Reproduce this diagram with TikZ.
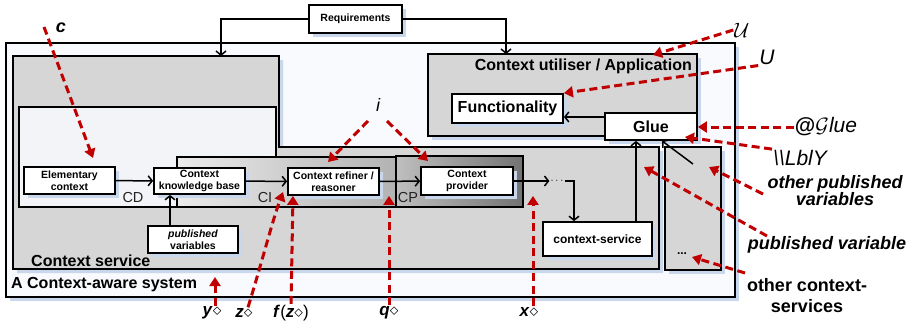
\documentclass[tikz,border=0pt]{standalone}
\usepackage{fontspec}
\setmainfont{Liberation Sans}
\setsansfont{Liberation Sans}
\usetikzlibrary{arrows.meta, positioning, calc, shadows}
\usepackage{xcolor}
\definecolor{csred}{HTML}{C00000}
\definecolor{csshadow}{HTML}{C9D7EC}
\definecolor{csgray}{HTML}{D6D6D6}
\definecolor{cspale}{HTML}{F2F4F8}
\definecolor{cssky}{HTML}{F9FAFD}
\definecolor{csdark}{HTML}{222222}
\newcommand{\dvar}[1]{\textbf{\textit{#1}}$\diamond$}

\begin{document}
\begin{tikzpicture}[
    x=1pt, y=-1pt,
    zone/.style={draw=black, line width=2.2pt},
    block/.style={
        rectangle,
        draw=black,
        line width=1.8pt,
        fill=white,
        align=center,
        inner sep=1pt,
        font=\bfseries\fontsize{10.5}{12.5}\selectfont,
        drop shadow={shadow xshift=4pt, shadow yshift=-4pt, fill=csshadow, opacity=1}
    },
    bigtext/.style={font=\bfseries\fontsize{16}{18}\selectfont, inner sep=1pt},
    pintag/.style={font=\fontsize{14.5}{16}\selectfont, text=csdark, inner sep=1pt},
    flow/.style={
        ->,
        >={Straight Barb[length=4pt, width=10pt]},
        line width=1.5pt
    },
    cue/.style={
        -{Triangle[length=9pt, width=11pt]},
        csred,
        line width=3pt,
        dash pattern=on 8pt off 4.5pt
    },
    vartag/.style={font=\fontsize{17}{19}\selectfont, inner sep=1pt},
    sidetag/.style={font=\bfseries\itshape\fontsize{18}{17}\selectfont, align=center, inner sep=1pt}
]
\useasboundingbox (0,0) rectangle (918,325);

% System frame
\fill[csshadow] (10,47) rectangle (739,301);
\draw[zone, fill=cssky] (6,43) rectangle (735,297);

% Shadows of the inner frames
\begin{scope}[shift={(4,4)}]
  \fill[csshadow] (13,56) -- (279,56) -- (279,147) -- (659,147) -- (659,269) -- (13,269) -- cycle;
  \fill[csshadow] (428,54) rectangle (697,136);
  \fill[csshadow] (665,147) rectangle (721,270);
\end{scope}

% Context service, utiliser and other services
\draw[zone, fill=csgray] (13,56) -- (279,56) -- (279,147) -- (659,147) -- (659,269) -- (13,269) -- cycle;
\draw[zone, fill=csgray] (428,54) rectangle (697,136);
\draw[zone, fill=csgray] (665,147) rectangle (721,270);

% Inner layers
\draw[zone, fill=cspale] (19,107) rectangle (276,207);
\draw[zone, left color=black!8, right color=black!30] (177,157) rectangle (396,207);
\draw[zone, left color=black!25, right color=black!55] (396,156) rectangle (523,207);

% Frame titles
\node[bigtext, anchor=east] (utiltitle) at (693,66) {Context utiliser / Application};
\node[bigtext, anchor=west] (srvtitle) at (30,261) {Context service};
\node[bigtext, anchor=west] (systitle) at (10,285) {A Context-aware system};
\node[pintag] (cd) at (133,198) {CD};
\node[pintag] (ci) at (265,198) {CI};
\node[pintag] (cp) at (408,198) {CP};

% Blocks
\node[block, minimum width=93pt, minimum height=28pt] (req) at (355.5,19) {Requirements};
\node[block, minimum width=91pt, minimum height=27pt] (elem) at (69.5,180.5) {Elementary\\context};
\node[block, minimum width=91pt, minimum height=26pt] (ckb) at (199.5,181) {Context\\knowledge base};
\node[block, minimum width=91pt, minimum height=27pt] (refiner) at (333.5,181.5) {Context refiner /\\reasoner};
\node[block, minimum width=92pt, minimum height=28pt] (provider) at (467,181) {Context\\provider};
\node[block, minimum width=90pt, minimum height=27pt] (pubvars) at (193,239.5) {\textit{published}\\variables};
\node[block, minimum width=109pt, minimum height=34pt, font=\bfseries\fontsize{12}{14}\selectfont] (ctxsrv) at (597.5,239) {context-service};
\node[block, minimum width=111pt, minimum height=29pt, font=\bfseries\fontsize{16}{18}\selectfont] (func) at (507.5,108.5) {Functionality};
\node[block, minimum width=92pt, minimum height=27pt, font=\bfseries\fontsize{16}{18}\selectfont] (glue) at (651,126.5) {Glue};
\node[font=\bfseries\fontsize{11}{12}\selectfont, inner sep=1pt] (dots) at (557,181) {$\cdots$};
\node[font=\bfseries\fontsize{12}{12}\selectfont, inner sep=1pt] (odots) at (682,254) {...};

% Black connectors
\coordinate (srvtop) at (221,56);
\coordinate (utiltop) at (506,54);
\coordinate (otail) at (693,164);
\draw[flow] (req.west) -| (srvtop);
\draw[flow] (req.east) -| (utiltop);
\draw[flow] (elem) -- (ckb);
\draw[flow] (ckb) -- (refiner);
\draw[flow] (refiner) -- (provider);
\draw[flow] (provider) -- (dots);
\draw[flow] (dots.east) -| ([xshift=-23.5pt]ctxsrv.north);
\draw[flow] ([xshift=-23pt]pubvars.north) -- ([xshift=-23pt]pubvars.north |- ckb.south);
\draw[flow] ([xshift=-15pt]glue.south |- ctxsrv.north) -- ([xshift=-15pt]glue.south);
\draw[flow] ([yshift=9.5pt]glue.west) -- ([yshift=9.5pt]glue.west -| func.east);
\draw[flow] (otail) -- ([xshift=11pt]glue.south);

% Red labels
\node[vartag, font=\bfseries\itshape\fontsize{18}{19}\selectfont] (lc) at (61,28) {c};
\node[vartag, font=\itshape\fontsize{18}{19}\selectfont] (li) at (378,105) {i};
\node[vartag] (ly) at (212,313) {\dvar{y}};
\node[vartag] (lz) at (244,313) {\dvar{z}};
\node[vartag] (lfz) at (291,313) {\textbf{\textit{f}}(\textbf{\textit{z}}$\diamond$)};
\node[vartag] (lq) at (389,313) {\dvar{q}};
\node[vartag] (lx) at (529,312) {\dvar{x}};
\node[vartag, font=\fontsize{21}{22}\selectfont] (lcalu) at (742,30) {$\mathcal{U}$};
\node[vartag, font=\itshape\fontsize{21}{22}\selectfont] (lu) at (767,57) {U};
\node[vartag, font=\fontsize{21}{22}\selectfont] (lglue) at (826,127) {\textbf{@}$\mathcal{G}$\textit{lue}};
\node[vartag, font=\itshape\fontsize{21}{22}\selectfont] (llbl) at (800,158) {\textbackslash\textbackslash LblY};
\node[sidetag] (lother) at (835,191) {other published\\variables};
\node[sidetag] (lpub) at (827,245) {published variable};
\node[sidetag, font=\bfseries\fontsize{18}{21}\selectfont] (lsrvs) at (807,296) {other context-\\services};

% Red connectors
\coordinate (cstart) at (44,27);
\coordinate (ctip) at (93,158);
\coordinate (istartl) at (368,121);
\coordinate (itipl) at (328,162);
\coordinate (istartr) at (387,121);
\coordinate (itipr) at (428,161);
\coordinate (ztip) at (283,192);
\coordinate (ytip) at (215,277);
\coordinate (calutip) at (653,55);
\coordinate (lbltip) at (685,137);
\coordinate (otherstart) at (763,194);
\coordinate (othertip) at (709,167);
\coordinate (pubstart) at (767,236);
\coordinate (pubtip) at (644,167);
\coordinate (srvsstart) at (745,273);
\coordinate (srvstip) at (692,257);

\draw[cue] (cstart) -- (ctip);
\draw[cue] (istartl) -- (itipl);
\draw[cue] (istartr) -- (itipr);
\draw[cue] ([xshift=4pt]lz.north) .. controls (262,262) and (272,222) .. (ztip);
\draw[cue] (lfz.north) -- ([xshift=-40.5pt]refiner.south);
\draw[cue] (lq.north) -- (lq.north |- provider.south);
\draw[cue] ([xshift=4pt]lx.north) -- ([xshift=4pt]lx.north |- provider.south);
\draw[cue] ([xshift=3pt]ly.north) -- (ytip);
\draw[cue] (lcalu.west) -- (calutip);
\draw[cue] (lu.south west) -- (func.north east);
\draw[cue] (lglue.west) -- (lglue.west -| glue.east);
\draw[cue] (llbl.north west) -- (lbltip);
\draw[cue] (otherstart) -- (othertip);
\draw[cue] (pubstart) -- (pubtip);
\draw[cue] (srvsstart) -- (srvstip);

\end{tikzpicture}
\end{document}
